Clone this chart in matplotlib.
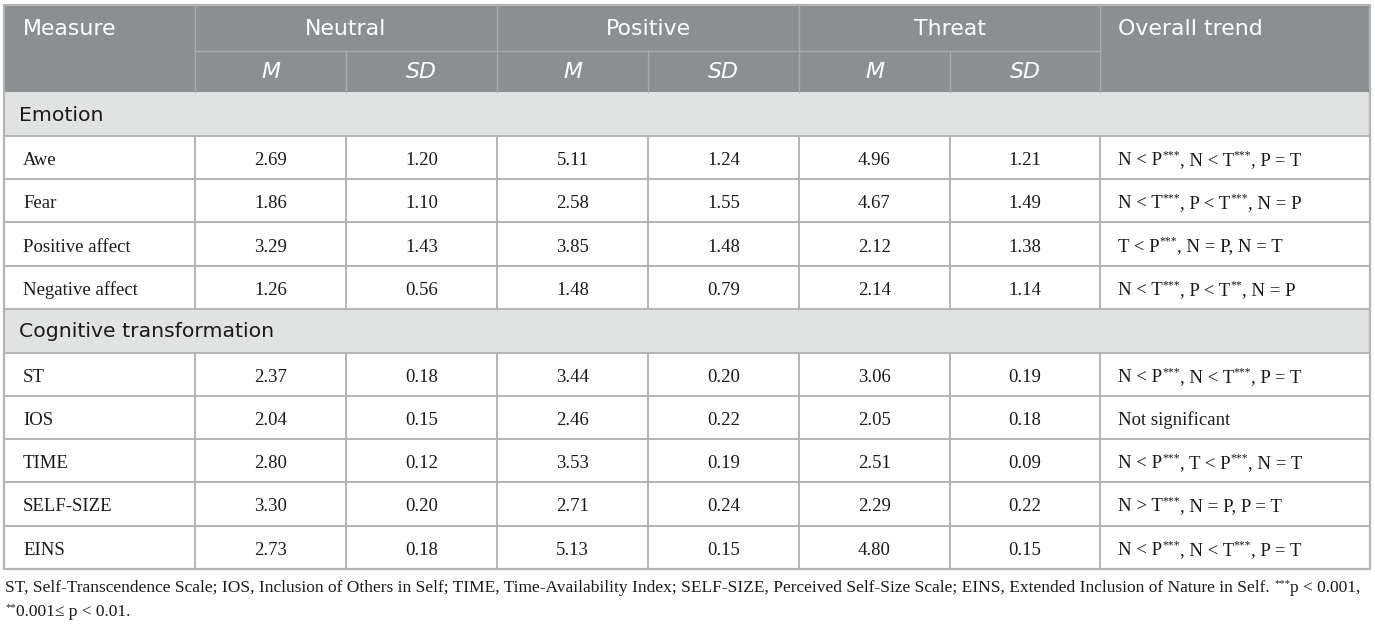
import matplotlib.pyplot as plt
from matplotlib.patches import Rectangle

# table data
groups = ["Neutral", "Positive", "Threat"]
sections = ["Emotion", "Cognitive transformation"]
emotion_measures = ["Awe", "Fear", "Positive affect", "Negative affect"]
cognitive_measures = ["ST", "IOS", "TIME", "SELF-SIZE", "EINS"]

neutral_m = ["2.69", "1.86", "3.29", "1.26", "2.37", "2.04", "2.80", "3.30", "2.73"]
neutral_sd = ["1.20", "1.10", "1.43", "0.56", "0.18", "0.15", "0.12", "0.20", "0.18"]
positive_m = ["5.11", "2.58", "3.85", "1.48", "3.44", "2.46", "3.53", "2.71", "5.13"]
positive_sd = ["1.24", "1.55", "1.48", "0.79", "0.20", "0.22", "0.19", "0.24", "0.15"]
threat_m = ["4.96", "4.67", "2.12", "2.14", "3.06", "2.05", "2.51", "2.29", "4.80"]
threat_sd = ["1.21", "1.49", "1.38", "1.14", "0.19", "0.18", "0.09", "0.22", "0.15"]

# trend text, "^" marks a superscript piece
trends = [
    ["N < P", "^***", ", N < T", "^***", ", P = T"],
    ["N < T", "^***", ", P < T", "^***", ", N = P"],
    ["T < P", "^***", ", N = P, N = T"],
    ["N < T", "^***", ", P < T", "^**", ", N = P"],
    ["N < P", "^***", ", N < T", "^***", ", P = T"],
    ["Not significant"],
    ["N < P", "^***", ", T < P", "^***", ", N = T"],
    ["N > T", "^***", ", N = P, P = T"],
    ["N < P", "^***", ", N < T", "^***", ", P = T"],
]

footnote = [
    ["ST, Self-Transcendence Scale; IOS, Inclusion of Others in Self; TIME, Time-Availability Index; "
     "SELF-SIZE, Perceived Self-Size Scale; EINS, Extended Inclusion of Nature in Self. ", "^***",
     "p < 0.001,"],
    ["^**", "0.001\u2264 p < 0.01."],
]

# layout (pixels)
W, H = 1375, 624
col_x = [4, 195, 346, 497, 648, 799, 950, 1100, 1370]
top, mid, head_bot = 5, 51, 92
row_h = 43.2

header_bg = "#8b8f92"
section_bg = "#e1e3e2"
border = "#b3b5b5"
head_line = "#a9acae"
ink = "#1a1a1a"
sans = "DejaVu Sans"
serif = "Liberation Serif"
fs_head = 15.8
fs_sec = 14.7
fs_body = 13.5
fs_note = 12.5

fig = plt.figure(figsize=(W / 100, H / 100), dpi=100)
ax = fig.add_axes([0, 0, 1, 1])
ax.set_xlim(0, W)
ax.set_ylim(H, 0)
ax.axis("off")


def rich_text(x, base_y, parts, size):
    # chain normal and superscript pieces along one baseline
    prev = None
    for p in parts:
        sup = p.startswith("^")
        s = p[1:] if sup else p
        fs = size * 0.62 if sup else size
        y = base_y - size * 0.5 if sup else base_y
        if prev is None:
            prev = ax.text(x, y, s, fontsize=fs, family=serif, va="baseline", color=ink)
        else:
            prev = ax.annotate(s, xy=(1, y), xycoords=(prev, "data"), fontsize=fs,
                               family=serif, va="baseline", ha="left", color=ink)


# header
ax.add_patch(Rectangle((col_x[0], top), col_x[-1] - col_x[0], head_bot - top,
                       facecolor=header_bg, edgecolor="none"))
ax.plot([col_x[1], col_x[7]], [mid, mid], color=head_line, lw=1)
for i, x in enumerate(col_x[1:8]):
    y0 = top if i % 2 == 0 else mid
    ax.plot([x, x], [y0, head_bot], color=head_line, lw=1)
ax.text(23, (top + mid) / 2 + 1, "Measure", color="white", fontsize=fs_head, family=sans, va="center")
ax.text(1118, (top + mid) / 2 + 1, "Overall trend", color="white", fontsize=fs_head, family=sans,
        va="center")
for i, g in enumerate(groups):
    cx = (col_x[1 + 2 * i] + col_x[3 + 2 * i]) / 2
    ax.text(cx, (top + mid) / 2 + 1, g, color="white", fontsize=fs_head, family=sans,
            ha="center", va="center")
    for j, lab in enumerate(["M", "SD"]):
        cx = (col_x[1 + 2 * i + j] + col_x[2 + 2 * i + j]) / 2
        ax.text(cx, (mid + head_bot) / 2 + 1, lab, color="white", fontsize=fs_head, family=sans,
                style="italic", ha="center", va="center")

# body rows
columns = [neutral_m, neutral_sd, positive_m, positive_sd, threat_m, threat_sd]
y = head_bot
k = 0
for sec, measures in zip(sections, [emotion_measures, cognitive_measures]):
    ax.add_patch(Rectangle((col_x[0], y), col_x[-1] - col_x[0], row_h + 1,
                           facecolor=section_bg, edgecolor="none"))
    ax.text(19, y + row_h / 2 + 1.5, sec, color=ink, fontsize=fs_sec, family=sans, va="center")
    ax.plot([col_x[0], col_x[-1]], [y + row_h + 0.8] * 2, color=border, lw=1.4)
    y += row_h + 0.8
    for m in measures:
        base = y + row_h / 2 + 7.5
        ax.text(23, base, m, fontsize=fs_body, family=serif, va="baseline", color=ink)
        for c, vals in enumerate(columns):
            cx = (col_x[1 + c] + col_x[2 + c]) / 2
            ax.text(cx, base, vals[k], fontsize=fs_body, family=serif, ha="center",
                    va="baseline", color=ink)
        rich_text(1118, base, trends[k], fs_body)
        for x in col_x[1:8]:
            ax.plot([x, x], [y, y + row_h], color=border, lw=1.4)
        ax.plot([col_x[0], col_x[-1]], [y + row_h] * 2, color=border, lw=1.4)
        y += row_h
        k += 1

# outer border
ax.add_patch(Rectangle((col_x[0], top), col_x[-1] - col_x[0], y - top,
                       facecolor="none", edgecolor=border, lw=1.6))

# footnote
rich_text(5, 592, footnote[0], fs_note)
rich_text(5, 616, footnote[1], fs_note)

fig.savefig("out.png", dpi=100, facecolor="white")
